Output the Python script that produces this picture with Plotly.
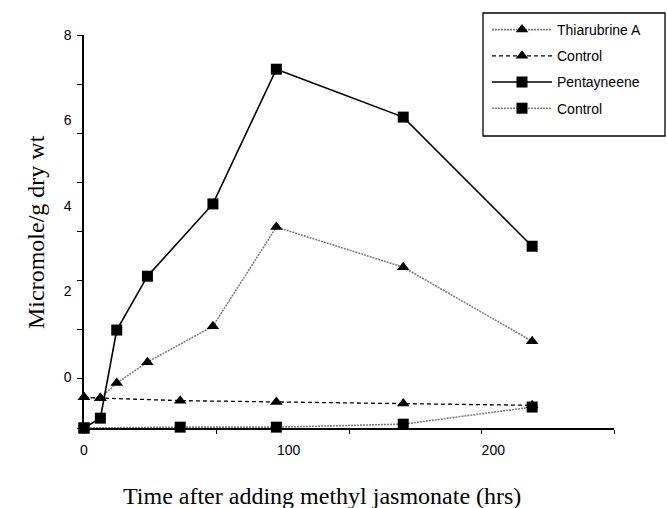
import plotly.graph_objects as go

# ---- data ----
time_main = [0, 8, 16, 31, 63, 94, 156, 219]
thiarubrine_a = [-0.47, -0.49, -0.14, 0.35, 1.19, 3.51, 2.57, 0.84]
pentayneene = [-1.19, -0.96, 1.10, 2.36, 4.05, 7.20, 6.08, 3.06]

time_ctrl_tri = [0, 8, 47, 94, 156, 219]
control_thiarubrine = [-0.47, -0.49, -0.55, -0.58, -0.62, -0.66]

time_ctrl_sq = [0, 47, 94, 156, 219]
control_pentayneene = [-1.19, -1.17, -1.17, -1.10, -0.70]

x_tick_vals = [0, 100, 200]
y_tick_vals = [0, 2, 4, 6, 8]

X_RANGE = [0, 259]
Y_RANGE = [-1.19, 8]

W, H = 667, 508
ML, MR, MT, MB = 84, 53, 35, 80
PW, PH = W - ML - MR, H - MT - MB


def px_x(p):
    return (p - ML) / PW


def px_y(p):
    return (H - MB - p) / PH


GRAY = "#7f7f7f"
DOT = "2px,1px"

fig = go.Figure()

fig.add_trace(go.Scatter(
    x=time_main, y=thiarubrine_a, name="Thiarubrine A", mode="lines+markers",
    line=dict(color=GRAY, width=1.6, dash=DOT),
    marker=dict(symbol="triangle-up", size=11, color="black"),
    cliponaxis=False, legendgroup="a", legendrank=1))

fig.add_trace(go.Scatter(
    x=time_ctrl_tri, y=control_thiarubrine, name="Control", mode="lines+markers",
    line=dict(color="black", width=1.3, dash="4px,3px"),
    marker=dict(symbol="triangle-up", size=11, color="black"),
    cliponaxis=False, legendgroup="b", legendrank=2))

fig.add_trace(go.Scatter(
    x=time_ctrl_sq, y=control_pentayneene, name="Control", mode="lines+markers",
    line=dict(color=GRAY, width=1.6, dash=DOT),
    marker=dict(symbol="square", size=11, color="black"),
    cliponaxis=False, legendgroup="d", legendrank=4))

fig.add_trace(go.Scatter(
    x=time_main, y=pentayneene, name="Pentayneene", mode="lines+markers",
    line=dict(color="black", width=1.6),
    marker=dict(symbol="square", size=11, color="black"),
    cliponaxis=False, legendgroup="c", legendrank=3))

tick_font = dict(family="Liberation Sans, Arial, sans-serif", size=14, color="black")
title_font = dict(family="Liberation Serif, Times New Roman, serif", size=24, color="black")

fig.update_layout(
    width=W, height=H,
    margin=dict(l=ML, r=MR, t=MT, b=MB, autoexpand=False),
    paper_bgcolor="white", plot_bgcolor="white",
    showlegend=True,
    legend=dict(
        xref="container", yref="container",
        x=487 / W, y=1 - 14 / H, xanchor="left", yanchor="top",
        bgcolor="rgba(0,0,0,0)", borderwidth=0,
        font=dict(family="Liberation Sans, Arial, sans-serif", size=14, color="black"),
        tracegroupgap=5, itemwidth=60,
    ),
    xaxis=dict(
        range=X_RANGE, showgrid=False, zeroline=False, automargin=False,
        showline=True, linecolor="black", linewidth=1.5,
        tickmode="array", tickvals=x_tick_vals, ticks="",
        ticklabelstandoff=8, tickfont=tick_font,
        minor=dict(ticks="outside", tick0=0, dtick=X_RANGE[1] / 4,
                   ticklen=4, tickcolor="black", tickwidth=1.2, showgrid=False),
    ),
    yaxis=dict(
        range=Y_RANGE, showgrid=False, zeroline=False, automargin=False,
        showline=True, linecolor="black", linewidth=1.5,
        tickmode="array", tickvals=y_tick_vals, ticks="",
        ticklabelstandoff=8, tickfont=tick_font,
        minor=dict(ticks="outside", tick0=Y_RANGE[0],
                   dtick=(Y_RANGE[1] - Y_RANGE[0]) / 8,
                   ticklen=5, tickcolor="black", tickwidth=1.2, showgrid=False),
    ),
    shapes=[dict(
        type="rect", xref="paper", yref="paper",
        x0=px_x(483), x1=px_x(665), y0=px_y(136), y1=px_y(13),
        line=dict(color="black", width=1.3), fillcolor="white", layer="below",
    )],
    annotations=[
        dict(text="Time after adding methyl jasmonate (hrs)", xref="paper", yref="paper",
             x=px_x(322), y=px_y(496), xanchor="center", yanchor="middle",
             showarrow=False, font=title_font),
        dict(text="Micromole/g dry wt", xref="paper", yref="paper",
             x=px_x(36), y=px_y(232), xanchor="center", yanchor="middle",
             textangle=-90, showarrow=False, font=title_font),
    ],
)

fig.write_html("out.html", config={"displayModeBar": False},
               post_script="document.body.style.margin='0';")
